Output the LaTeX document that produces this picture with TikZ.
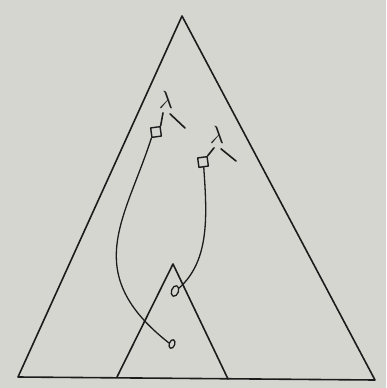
\documentclass[tikz,border=0pt]{standalone}
\usepackage{tikz}
\usetikzlibrary{shapes.geometric}
\definecolor{papel}{RGB}{214,214,209}
\definecolor{tinta}{RGB}{28,28,28}

\begin{document}
\begin{tikzpicture}[x=1pt, y=-1pt, line join=round, line cap=round,
      ln/.style={draw=tinta, line width=1.6pt},
      sq/.style={draw=tinta, line width=1.4pt, minimum size=9.5pt, inner sep=0pt},
      hole/.style={ellipse, draw=tinta, line width=1.3pt, minimum width=5.5pt,
                   minimum height=9pt, inner sep=0pt, rotate=-20},
      lam/.style={font=\fontsize{23}{23}\selectfont, text=tinta, inner sep=0pt}]
      \useasboundingbox (0,0) rectangle (386,388);
      \fill[papel] (0,0) rectangle (386,388);
      % Outer triangle
      \coordinate (top) at (182,16); \coordinate (bl) at (18,377); \coordinate (br) at (375,380);
      \draw[ln] (bl) -- (top) -- (br) -- (bl);
      % Inner triangle
      \coordinate (itop) at (173,264); \coordinate (ibl) at (117,377); \coordinate (ibr) at (228,379);
      \draw[ln] (ibl) -- (itop) -- (ibr);
      % Lambda 1
      \node[lam] (lam1) at (166,100) {$\lambda$};
      \node[sq,rotate=8] (sq1) at (156,132) {};
      \coordinate (leg1) at (185,128);
      \draw[ln] ([shift={(-3,4)}]lam1.south) -- (sq1.north east);
      \draw[ln] ([shift={(4,5)}]lam1.south) -- (leg1);
      % Lambda 2
      \node[lam] (lam2) at (217,135) {$\lambda$};
      \node[sq,rotate=8] (sq2) at (203,162) {};
      \coordinate (leg2) at (236,161);
      \draw[ln] ([shift={(-3,4)}]lam2.south) -- (sq2.north east);
      \draw[ln] ([shift={(4,5)}]lam2.south) -- (leg2);
      % Holes
      \node[hole] (h1) at (172,344) {};
      \node[hole, minimum height=11pt, minimum width=7pt] (h2) at (175,291) {};
      % Binding curves
      \draw[ln, line width=1.3pt] (sq1.south west) .. controls (125,220) and (80,273) .. (h1.west);
      \draw[ln, line width=1.3pt] (sq2.south) .. controls (207,215) and (210,260) .. (h2.north east);
\end{tikzpicture}
\end{document}
